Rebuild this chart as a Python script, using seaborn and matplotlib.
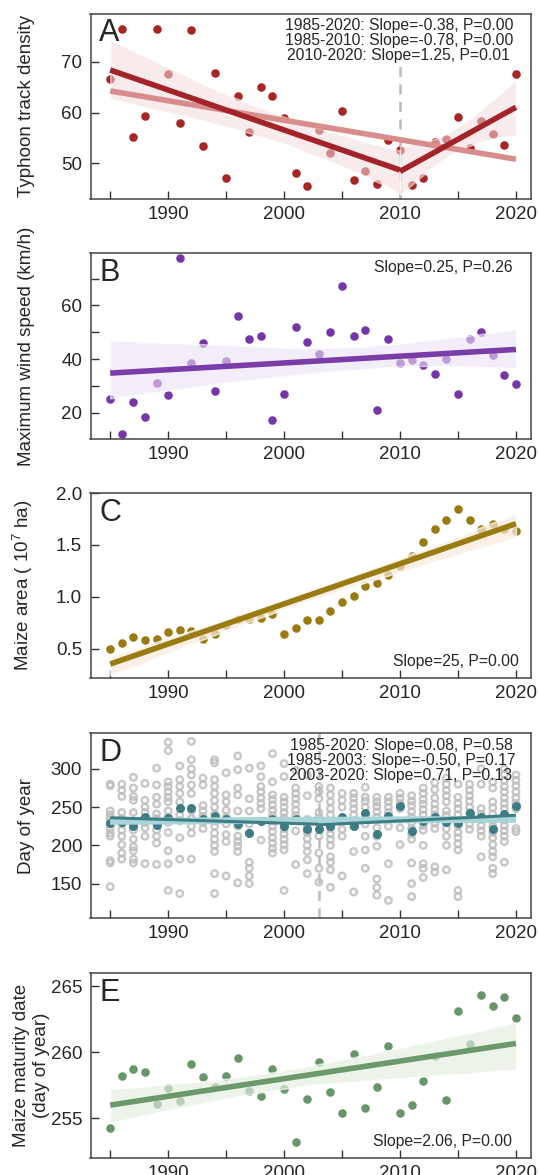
"""Five stacked time-series panels: typhoon, wind, maize area, DOY, maturity."""
import matplotlib
matplotlib.use("Agg")
import matplotlib.pyplot as plt
import pandas as pd
import seaborn as sns
from matplotlib.ticker import MultipleLocator

sns.set_style("ticks")
plt.rcParams["font.family"] = ["Liberation Sans", "DejaVu Sans"]
plt.rcParams["mathtext.default"] = "regular"

years = list(range(1985, 2021))

track_density = [66.7, 76.5, 55.3, 59.4, 76.5, 67.6, 57.9, 76.3, 53.5, 67.8,
                 47.1, 63.2, 56.2, 65.1, 63.3, 58.9, 48.1, 45.6, 56.6, 52.0,
                 60.4, 46.7, 48.5, 46.0, 54.6, 52.7, 45.8, 47.1, 54.2, 54.8,
                 59.1, 53.1, 58.3, 55.9, 53.6, 67.7]

wind_speed = [25.0, 12.2, 24.0, 18.5, 31.2, 26.5, 77.7, 38.5, 46.0, 28.3,
              39.4, 55.9, 47.6, 48.6, 17.4, 27.2, 52.1, 46.3, 41.9, 50.0,
              67.2, 48.6, 50.9, 21.2, 47.6, 38.5, 39.7, 37.8, 34.6, 40.1,
              27.2, 47.6, 50.0, 41.7, 34.0, 30.9]

maize_area = [0.50, 0.56, 0.61, 0.59, 0.60, 0.66, 0.68, 0.67, 0.60, 0.64,
              0.73, 0.79, 0.79, 0.80, 0.84, 0.64, 0.70, 0.78, 0.78, 0.86,
              0.95, 1.01, 1.11, 1.13, 1.21, 1.30, 1.39, 1.53, 1.65, 1.74,
              1.85, 1.74, 1.65, 1.70, 1.65, 1.63]

doy_mean = [229, 231, 226, 237, 227, 236, 249, 249, 234, 239,
            235, 228, 216, 232, 235, 226, 234, 222, 221, 225,
            237, 225, 243, 215, 238, 251, 219, 232, 237, 230,
            229, 243, 237, 222, 241, 251]

# individual site values (grey open circles), one list per year
doy_sites = [
    [280, 278, 245, 240, 235, 228, 222, 216, 212, 180, 177, 146],
    [280, 272, 264, 243, 235, 228, 220, 212, 201, 190, 182],
    [289, 275, 264, 259, 243, 229, 220, 208, 198, 193, 182, 177],
    [281, 259, 250, 243, 236, 230, 223, 212, 176],
    [301, 279, 263, 254, 241, 235, 228, 220, 212, 203, 175],
    [335, 324, 283, 277, 270, 263, 257, 245, 237, 230, 217, 193, 176, 141],
    [304, 286, 277, 268, 257, 240, 232, 210, 182, 137],
    [336, 312, 300, 292, 279, 268, 245, 235, 225, 216, 182],
    [288, 279, 252, 245, 238, 230, 222],
    [312, 308, 286, 277, 268, 259, 250, 241, 232, 225, 216, 208, 200, 192, 163, 137],
    [295, 266, 257, 246, 237, 228, 214, 205, 160],
    [317, 299, 275, 266, 245, 225, 212, 205, 199, 192, 151],
    [301, 261, 245, 228, 216, 178, 170, 160, 150],
    [304, 290, 277, 270, 262, 255, 248, 207],
    [320, 283, 266, 260, 253, 246, 239, 232, 225, 218, 210, 203, 196, 190],
    [307, 290, 263, 257, 250, 243, 236, 229, 222, 215, 208, 201, 194, 141],
    [298, 275, 268, 261, 254, 246, 239, 219, 175],
    [292, 265, 234, 225, 217, 209, 200, 192, 181, 163],
    [277, 270, 261, 243, 236, 230, 212, 190, 170, 152],
    [275, 266, 257, 248, 240, 230, 222, 215, 208, 200, 185, 178, 168, 145],
    [268, 259, 250, 221, 212, 160],
    [268, 262, 255, 248, 240, 232, 225, 192, 139],
    [276, 263, 258, 250, 235, 228, 212, 194, 170],
    [263, 257, 251, 244, 237, 223, 212, 199, 156, 145, 135],
    [263, 257, 250, 243, 225, 176, 128],
    [268, 262, 255, 248, 223, 201],
    [265, 258, 252, 244, 237, 230, 222, 215, 208, 177, 150, 133],
    [275, 268, 260, 254, 247, 240, 233, 226, 220, 200, 176, 170, 158],
    [282, 273, 262, 254, 247, 240, 229, 222, 172, 165],
    [288, 280, 272, 265, 257, 245, 239, 230, 222, 212, 200, 168],
    [280, 263, 255, 248, 240, 232, 225, 217, 210, 202, 194, 141, 133],
    [280, 272, 265, 258, 250, 243, 236, 228, 221],
    [300, 280, 248, 241, 234, 226, 219, 212, 185],
    [283, 275, 257, 249, 241, 233, 225, 217, 210, 201, 192, 185, 170, 163],
    [300, 293, 285, 277, 270, 262, 255, 248, 240, 233, 226, 219, 212, 205, 178],
    [292, 285, 278, 270, 262, 255, 248, 222, 218],
]

maturity = [254.3, 258.2, 258.7, 258.5, 256.1, 257.3, 256.3, 259.1, 258.1, 257.4,
            258.2, 259.6, 257.1, 256.7, 258.7, 257.2, 253.2, 256.5, 259.3, 257.0,
            255.4, 259.9, 255.8, 257.4, 260.5, 255.4, 256.0, 257.8, 259.7, 256.4,
            263.1, 260.6, 264.3, 263.5, 264.2, 262.6]

df = pd.DataFrame({"year": years, "track": track_density, "wind": wind_speed,
                   "area": maize_area, "doy": doy_mean, "maturity": maturity})
sites = pd.DataFrame([(y, v) for y, vals in zip(years, doy_sites) for v in vals],
                     columns=["year", "doy"])

W, H = 539, 1175
fig = plt.figure(figsize=(W / 100, H / 100), dpi=100)
left, right = 90.5, 531
boxes = [(13.7, 199), (253, 439), (493, 678), (733, 918), (973, 1158)]
axes = [fig.add_axes([left / W, 1 - b / H, (right - left) / W, (b - t) / H])
        for t, b in boxes]


def style(ax, ylim, major, minor=None, label="", label_x=-0.125):
    ax.set_xlim(1983.3, 2021.3)
    ax.set_ylim(*ylim)
    ax.xaxis.set_major_locator(MultipleLocator(10))
    ax.xaxis.set_minor_locator(MultipleLocator(5))
    ax.yaxis.set_major_locator(MultipleLocator(major))
    if minor:
        ax.yaxis.set_minor_locator(MultipleLocator(minor))
    ax.tick_params(which="both", direction="in", length=6, width=1,
                   color="#333333", labelsize=13.5)
    ax.tick_params(axis="x", pad=5)
    ax.tick_params(axis="y", pad=6)
    for s in ax.spines.values():
        s.set_color("#444444")
        s.set_linewidth(1.1)
    ax.set_xlabel("")
    ax.set_ylabel(label, fontsize=13.5)
    ax.yaxis.set_label_coords(label_x, 0.5)


def fit(ax, data, y, line_col, band_col, lw=4, ci=95, alpha=0.6, z=4):
    sns.regplot(data=data, x="year", y=y, ax=ax, scatter=False, ci=ci,
                n_boot=1000, seed=3, color=band_col,
                line_kws=dict(color=line_col, lw=lw, zorder=z,
                              solid_capstyle="butt"))
    if ci is not None:
        band = ax.collections[-1]
        band.set_facecolor(band_col)
        band.set_alpha(alpha)
        band.set_zorder(3)


def letter(ax, s):
    ax.text(0.02, 0.975, s, transform=ax.transAxes, fontsize=22,
            va="top", ha="left")


# A: typhoon track density
ax = axes[0]
sns.scatterplot(data=df, x="year", y="track", ax=ax, color="#a82525",
                s=38, linewidth=0, zorder=2)
ax.vlines(2010, 43, 71, colors="#bbbbbb", linestyles=(0, (4, 3)), lw=1.8, zorder=1)
fit(ax, df, "track", "#d98c8c", "#f0d0d0", lw=4, ci=None, z=3.5)
fit(ax, df[df.year <= 2010], "track", "#a3232a", "#f3dcdc", alpha=0.55)
fit(ax, df[df.year >= 2010], "track", "#a3232a", "#f3dcdc", alpha=0.55)
ax.text(0.7, 0.975, "1985-2020: Slope=-0.38, P=0.00\n1985-2010: Slope=-0.78, P=0.00\n"
        "2010-2020: Slope=1.25, P=0.01", transform=ax.transAxes, fontsize=11.3,
        ha="center", va="top", linespacing=1.0, zorder=6)
letter(ax, "A")
style(ax, (43, 79.5), 10, label="Typhoon track density")

# B: maximum wind speed
ax = axes[1]
sns.scatterplot(data=df, x="year", y="wind", ax=ax, color="#7536a8",
                s=38, linewidth=0, zorder=2)
fit(ax, df, "wind", "#7a3da8", "#ebe1f7", alpha=0.6)
ax.text(0.8, 0.965, "Slope=0.25, P=0.26", transform=ax.transAxes, fontsize=11.3,
        ha="center", va="top")
letter(ax, "B")
style(ax, (10.3, 79.5), 20, 10, label="Maximum wind speed (km/h)")

# C: maize area
ax = axes[2]
sns.scatterplot(data=df, x="year", y="area", ax=ax, color="#9a7b12",
                s=38, linewidth=0, zorder=2)
fit(ax, df, "area", "#9a7b12", "#fbe9da", alpha=0.7)
ax.text(0.83, 0.05, "Slope=25, P=0.00", transform=ax.transAxes, fontsize=11.3,
        ha="center", va="bottom")
letter(ax, "C")
style(ax, (0.22, 2.0), 0.5, label="Maize area ( 10$^7$ ha)")

# D: day of year
ax = axes[3]
sns.scatterplot(data=sites, x="year", y="doy", ax=ax, marker="o",
                facecolor="none", edgecolor="#bdbdbd", linewidth=1.7,
                s=22, alpha=0.85, zorder=1)
ax.axvline(2003, color="#bbbbbb", ls=(0, (4, 3)), lw=1.8, zorder=1.5)
sns.scatterplot(data=df, x="year", y="doy", ax=ax, color="#3d7c84",
                s=42, linewidth=0, zorder=2)
fit(ax, df, "doy", "#a9d4d8", "#a9d4d8", lw=5, ci=None, z=3)
fit(ax, df[df.year <= 2003], "doy", "#3f7d85", "#3f7d85", lw=2.2, ci=None)
fit(ax, df[df.year >= 2003], "doy", "#3f7d85", "#3f7d85", lw=2.2, ci=None)
ax.text(0.705, 0.975, "1985-2020: Slope=0.08, P=0.58\n1985-2003: Slope=-0.50, P=0.17\n"
        "2003-2020: Slope=0.71, P=0.13", transform=ax.transAxes, fontsize=11.3,
        ha="center", va="top", linespacing=1.0, zorder=6)
letter(ax, "D")
style(ax, (105, 347), 50, label="Day of year")

# E: maize maturity date
ax = axes[4]
sns.scatterplot(data=df, x="year", y="maturity", ax=ax, color="#66966a",
                s=38, linewidth=0, zorder=2)
fit(ax, df, "maturity", "#6b996c", "#e3efe0", alpha=0.65)
ax.text(0.8, 0.05, "Slope=2.06, P=0.00", transform=ax.transAxes, fontsize=11.3,
        ha="center", va="bottom")
letter(ax, "E")
style(ax, (252, 266), 5, label="Maize maturity date\n(day of year)", label_x=-0.093)

fig.savefig("out.png", dpi=100)
